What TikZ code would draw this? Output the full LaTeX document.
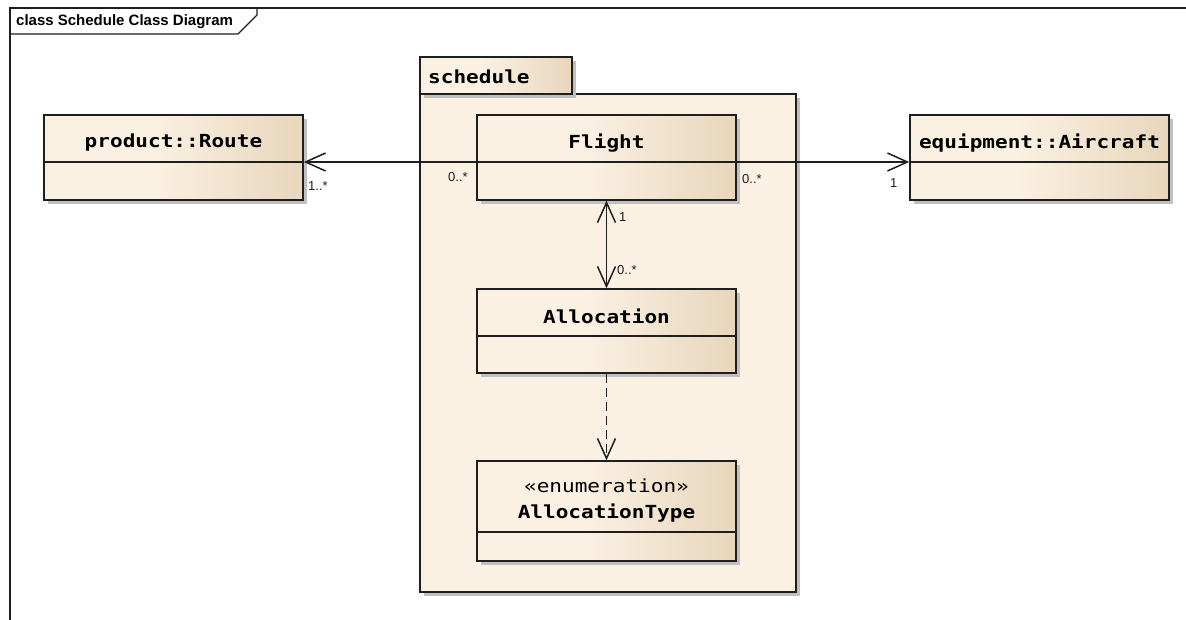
\documentclass[tikz,border=0pt]{standalone}
\usepackage{fontspec}
\setmainfont{Liberation Sans}
\newfontfamily\umlmono[FakeStretch=1.17]{DejaVu Sans Mono}
\usetikzlibrary{arrows.meta,shadows}

\definecolor{cream}{RGB}{251,241,227}
\definecolor{tan}{RGB}{232,214,188}
\definecolor{shadowgrey}{RGB}{192,192,192}
\definecolor{linec}{RGB}{30,30,30}

% cream on the left half, fading to tan at the right edge
\pgfdeclarehorizontalshading{classgrad}{100bp}{%
  color(0bp)=(cream); color(25bp)=(cream); color(45bp)=(cream);
  color(75bp)=(tan); color(100bp)=(tan)}

\tikzset{
  umlshadow/.style={drop shadow={shadow xshift=4pt, shadow yshift=-4pt,
      fill=shadowgrey, opacity=1}},
  classbox/.style={draw=linec, line width=1.5pt, shading=classgrad,
      minimum width=259pt, inner sep=0pt, umlshadow},
  pkgbody/.style={draw=linec, line width=1.5pt, fill=cream, inner sep=0pt, umlshadow},
  pkgtab/.style={draw=linec, line width=1.5pt, shading=classgrad, inner sep=0pt, umlshadow},
  classname/.style={font=\umlmono\bfseries\fontsize{18}{20}\selectfont, inner sep=0pt},
  stereo/.style={font=\umlmono\fontsize{18}{20}\selectfont, inner sep=0pt},
  mult/.style={font=\fontsize{13}{15}\selectfont, text=linec, inner sep=0pt, anchor=west},
  divider/.style={draw=linec, line width=1.5pt},
  barb/.style={Straight Barb[length=20pt,width=18pt,line width=1.5pt]},
  assoc/.style={draw=linec, line width=1.5pt, -{Straight Barb[length=20pt,width=18pt,line width=1.5pt]}},
  biassoc/.style={draw=linec, line width=1.5pt,
      {Straight Barb[length=20pt,width=18pt,line width=1.5pt]}-{Straight Barb[length=20pt,width=18pt,line width=1.5pt]}},
  depend/.style={draw=linec, line width=1.5pt, dash pattern=on 9pt off 5pt,
      -{Straight Barb[length=20pt,width=18pt,line width=1.5pt]}},
}

\begin{document}
\begin{tikzpicture}[x=1pt,y=-1pt]
\useasboundingbox (0,0) rectangle (1186,620);

% diagram frame with its title tab
\draw[linec, line width=1.2pt] (10,620) -- (10,8) -- (1186,8);
\draw[linec, line width=1.2pt] (10,34) -- (238,34) -- (257,15) -- (257,8);
\node[font=\bfseries\fontsize{15}{17}\selectfont, anchor=west, inner sep=0pt]
  (title) at (16,21.5) {class Schedule Class Diagram};

% package "schedule"
\node[pkgbody, minimum width=376pt, minimum height=498pt] (pkg) at (608,343) {};
\node[pkgtab, minimum width=152pt, minimum height=37pt] (pkgtab) at (496,75.5) {};
\node[classname, anchor=west] (pkgname) at (428,77) {schedule};

% classes
\node[classbox, minimum height=85pt] (flight) at (606.5,157.5) {};
\node[classname] (flightname) at (606.5,143) {Flight};
\draw[divider] (flight.west |- 0,162) -- (flight.east |- 0,162);

\node[classbox, minimum height=84pt] (alloc) at (606.5,331) {};
\node[classname] (allocname) at (606.5,316.5) {Allocation};
\draw[divider] (alloc.west |- 0,336) -- (alloc.east |- 0,336);

\node[classbox, minimum height=100pt] (alloctype) at (606.5,511) {};
\node[stereo] (alloctypest) at (606.5,485.5) {«enumeration»};
\node[classname] (alloctypename) at (606.5,513) {AllocationType};
\draw[divider] (alloctype.west |- 0,532) -- (alloctype.east |- 0,532);

\node[classbox, minimum height=85pt] (route) at (173.5,157.5) {};
\node[classname] (routename) at (173.5,143) {product::Route};
\draw[divider] (route.west |- 0,162) -- (route.east |- 0,162);

\node[classbox, minimum height=85pt] (aircraft) at (1039.5,157.5) {};
\node[classname] (aircraftname) at (1039.5,143) {equipment::Aircraft};
\draw[divider] (aircraft.west |- 0,162) -- (aircraft.east |- 0,162);

% associations
\draw[assoc] (flight.west |- 0,162) -- (route.east |- 0,162);
\draw[assoc] (flight.east |- 0,162) -- (aircraft.west |- 0,162);
\draw[biassoc] (flight.south) -- (alloc.north);
\draw[depend] (alloc.south) -- (alloctype.north);

% multiplicities
\node[mult] (m1) at (448,177) {0..*};
\node[mult] (m2) at (308,186) {1..*};
\node[mult] (m3) at (742,179) {0..*};
\node[mult] (m4) at (890,183) {1};
\node[mult] (m5) at (619,217) {1};
\node[mult] (m6) at (617,270) {0..*};
\end{tikzpicture}
\end{document}
